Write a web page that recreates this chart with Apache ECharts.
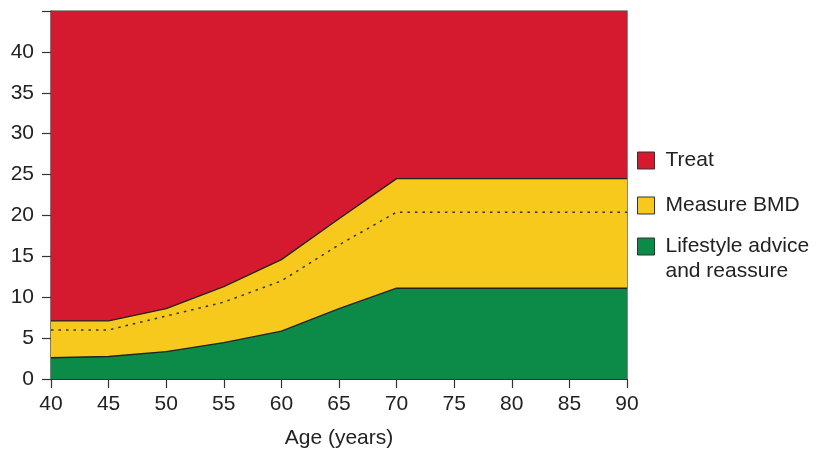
<!DOCTYPE html>
<html>
<head>
<meta charset="utf-8">
<script src="https://cdn.jsdelivr.net/npm/echarts@6/dist/echarts.min.js"></script>
<style>html,body{margin:0;padding:0;background:#fff;}#chart{width:820px;height:451px;}</style>
</head>
<body>
<div id="chart"></div>
<script>
const ages = [40, 45, 50, 55, 60, 65, 70, 75, 80, 85, 90];
const treatTop = [45, 45, 45, 45, 45, 45, 45, 45, 45, 45, 45];
const measureTop = [7.1, 7.1, 8.6, 11.3, 14.6, 19.6, 24.5, 24.5, 24.5, 24.5, 24.5];
const interventionThreshold = [6.0, 6.0, 7.7, 9.4, 12.0, 16.4, 20.4, 20.4, 20.4, 20.4, 20.4];
const lifestyleTop = [2.6, 2.75, 3.35, 4.45, 5.85, 8.6, 11.1, 11.1, 11.1, 11.1, 11.1];
const seriesNames = ['Treat', 'Measure BMD', 'Lifestyle advice\nand reassure'];
const colors = ['#D51A2F', '#F7C91C', '#0B8A48'];

const FONT = 'Liberation Sans, Arial, Helvetica, sans-serif';
const FS = 21;
const pairs = arr => ages.map((a, i) => [a, arr[i]]);

const chart = echarts.init(document.getElementById('chart'), null, {renderer: 'canvas'});

function legendItem(i, top, extra) {
  return Object.assign({
    orient: 'vertical', left: 637, top: top, padding: 0,
    icon: 'rect', itemWidth: 17, itemHeight: 17,
    selectedMode: false,
    data: [{name: seriesNames[i], icon: 'rect', itemStyle: {color: colors[i], borderColor: '#333', borderWidth: 1}}],
    textStyle: {fontFamily: FONT, fontSize: FS, color: '#222', lineHeight: 21, padding: [0, 0, 0, 6]}
  }, extra || {});
}

const option = {
  animation: false,
  grid: {left: 51, right: 193, top: 11, bottom: 72, outerBoundsMode: 'none', containLabel: false,
    show: true, borderColor: '#333', borderWidth: 1.2, backgroundColor: 'transparent'},
  legend: [
    legendItem(0, 150),
    legendItem(1, 195),
    legendItem(2, 209, {
      formatter: name => ' \n' + name,
      textStyle: {fontFamily: FONT, fontSize: FS, color: '#222', lineHeight: 25, padding: [0, 0, 0, 6]}
    })
  ],
  xAxis: {
    type: 'value', min: 40, max: 90, interval: 5,
    name: 'Age (years)', nameLocation: 'middle', nameGap: 49,
    nameTextStyle: {fontFamily: FONT, fontSize: FS, color: '#222'},
    axisLine: {lineStyle: {color: '#333', width: 1.2}},
    axisTick: {show: true, length: 9, lineStyle: {color: '#333', width: 1.2}},
    axisLabel: {fontFamily: FONT, fontSize: FS, color: '#222', margin: 15},
    splitLine: {show: false}
  },
  yAxis: {
    type: 'value', min: 0, max: 45, interval: 5,
    axisLine: {show: true, lineStyle: {color: '#333', width: 1.2}},
    axisTick: {show: true, length: 9, lineStyle: {color: '#333', width: 1.2}},
    axisLabel: {fontFamily: FONT, fontSize: FS, color: '#222', margin: 17,
      formatter: v => (v === 45 ? '' : String(v))},
    splitLine: {show: false}
  },
  series: [
    {name: seriesNames[0], type: 'line', data: pairs(treatTop), symbol: 'none', color: colors[0],
      lineStyle: {width: 0}, areaStyle: {color: colors[0], opacity: 1}, z: 1},
    {name: seriesNames[1], type: 'line', data: pairs(measureTop), symbol: 'none', color: colors[1],
      lineStyle: {width: 1.3, color: '#222'}, areaStyle: {color: colors[1], opacity: 1}, z: 2},
    {name: seriesNames[2], type: 'line', data: pairs(lifestyleTop), symbol: 'none', color: colors[2],
      lineStyle: {width: 1.3, color: '#222'}, areaStyle: {color: colors[2], opacity: 1}, z: 3},
    {name: 'threshold', type: 'line', data: pairs(interventionThreshold), symbol: 'none',
      lineStyle: {width: 1.5, color: '#333', type: [2.5, 5]}, z: 4}
  ]
};
chart.setOption(option);
</script>
</body>
</html>
